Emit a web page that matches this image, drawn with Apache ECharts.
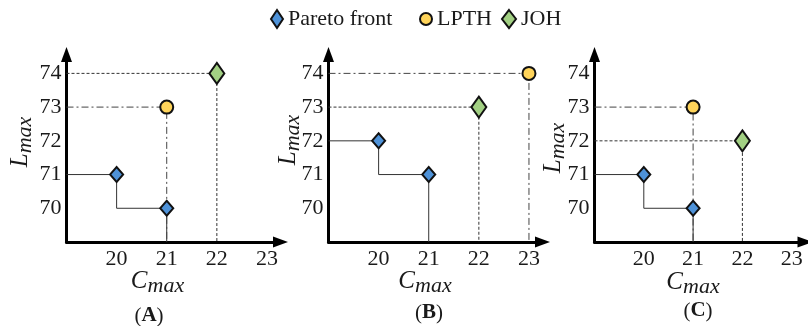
<!DOCTYPE html>
<html><head><meta charset="utf-8">
<script src="https://cdn.jsdelivr.net/npm/echarts@6/dist/echarts.min.js"></script>
<style>html,body{margin:0;padding:0;background:#fff}#c{width:808px;height:326px}</style>
</head><body><div id="c"></div>
<script>
// ---- data ----
const panelLabels = ['A', 'B', 'C'];
const xTickLabels = ['20', '21', '22', '23'];
const yTickLabels = ['70', '71', '72', '73', '74'];
const xAxisMain = 'C', xAxisSub = 'max';
const yAxisMain = 'L', yAxisSub = 'max';
const seriesNames = ['Pareto front', 'LPTH', 'JOH'];
const paretoA = [[20, 71], [21, 70]];
const lpthA = [21, 73];
const johA = [22, 74];
const paretoB = [[20, 72], [21, 71]];
const lpthB = [23, 74];
const johB = [22, 73];
const paretoC = [[20, 71], [21, 70]];
const lpthC = [21, 73];
const johC = [22, 72];

// ---- layout / style ----
const FONT = 'Liberation Serif';
const TXT = '#1a1a1a';
const xMin = 19, xMax = 23.27, yMin = 69, yMax = 74.56;
const panels = [
  { pareto: paretoA, lpth: lpthA, joh: johA },
  { pareto: paretoB, lpth: lpthB, joh: johB },
  { pareto: paretoC, lpth: lpthC, joh: johC }
];
const gridLeft = [66.5, 328.5, 594.5];
const xNamePos = [[157.5, 283], [425, 283], [693, 284]];
const yNamePos = [[22, 142], [290, 140], [555, 148]];
const panelLabelPos = [[149, 316], [429, 313], [698, 311]];

const grid = gridLeft.map(l => ({ left: l, top: 54.5, width: 214, height: 187.5 }));
const axisLine = { show: true, onZero: false, lineStyle: { color: '#000', width: 3 }, symbol: ['none', 'triangle'], symbolSize: [11, 15] };
const xAxis = grid.map((g, i) => ({
  type: 'value', gridIndex: i, min: xMin, max: xMax, interval: 1,
  axisLine, axisTick: { show: false }, splitLine: { show: false },
  axisLabel: { fontFamily: FONT, fontSize: 22, color: TXT, margin: 6,
    formatter: v => xTickLabels.includes(String(v)) ? String(v) : '' }
}));
const yAxis = grid.map((g, i) => ({
  type: 'value', gridIndex: i, min: yMin, max: yMax, interval: 1,
  axisLine, axisTick: { show: false }, splitLine: { show: false },
  axisLabel: { fontFamily: FONT, fontSize: 22, color: TXT, margin: 5,
    formatter: v => yTickLabels.includes(String(v)) ? String(v) : '' }
}));

const series = [];
const markerStyle = {
  'Pareto front': { symbol: 'diamond', symbolSize: [13, 15], color: '#4E92D8' },
  'LPTH': { symbol: 'circle', symbolSize: 13, color: '#FFD45A' },
  'JOH': { symbol: 'diamond', symbolSize: [15, 21], color: '#A2D083' }
};
panels.forEach((p, i) => {
  const guide = (data, lineStyle) => series.push({
    type: 'line', xAxisIndex: i, yAxisIndex: i, data, symbol: 'none', silent: true,
    z: 1, lineStyle, animation: false
  });
  const [p1, p2] = p.pareto;
  guide([[xMin, p1[1]], p1, [p1[0], p2[1]], p2, [p2[0], yMin]], { color: '#333', width: 1, type: 'solid' });
  guide([[xMin, p.lpth[1]], p.lpth, [p.lpth[0], yMin]], { color: '#444', width: 1, type: [7, 3, 2, 3] });
  guide([[xMin, p.joh[1]], p.joh, [p.joh[0], yMin]], { color: '#333', width: 1, type: [3, 2] });
  const pts = { 'Pareto front': p.pareto, 'LPTH': [p.lpth], 'JOH': [p.joh] };
  seriesNames.forEach(n => {
    const m = markerStyle[n];
    series.push({
      name: n, type: 'scatter', xAxisIndex: i, yAxisIndex: i, data: pts[n],
      symbol: m.symbol, symbolSize: m.symbolSize, z: 3, animation: false,
      itemStyle: { color: m.color, borderColor: '#111', borderWidth: 2, opacity: 1 }
    });
  });
});

const legendCommon = {
  top: 8, padding: 0, symbolKeepAspect: false, selectedMode: false,
  textStyle: { fontFamily: FONT, fontSize: 22, color: TXT },
  itemStyle: { borderColor: '#111', borderWidth: 2 }
};
const legend = [
  Object.assign({ data: [seriesNames[0]], left: 270, itemWidth: 12, itemHeight: 18 }, legendCommon),
  Object.assign({ data: [seriesNames[1]], left: 419, itemWidth: 12, itemHeight: 12 }, legendCommon),
  Object.assign({ data: [seriesNames[2]], left: 501, itemWidth: 14, itemHeight: 18 }, legendCommon)
];

const richName = {
  m: { fontFamily: FONT, fontStyle: 'italic', fontSize: 25, fill: TXT, verticalAlign: 'bottom', padding: [0, 0, 3, 0] },
  s: { fontFamily: FONT, fontStyle: 'italic', fontSize: 22, fill: TXT, verticalAlign: 'bottom' }
};
const graphic = [];
panelLabels.forEach((lab, i) => {
  graphic.push({ type: 'text', x: xNamePos[i][0], y: xNamePos[i][1],
    style: { text: '{m|' + xAxisMain + '}{s|' + xAxisSub + '}', rich: richName, align: 'center', verticalAlign: 'middle' } });
  graphic.push({ type: 'text', x: yNamePos[i][0], y: yNamePos[i][1], rotation: Math.PI / 2,
    style: { text: '{m|' + yAxisMain + '}{s|' + yAxisSub + '}', rich: richName, align: 'center', verticalAlign: 'middle' } });
  graphic.push({ type: 'text', x: panelLabelPos[i][0], y: panelLabelPos[i][1],
    style: { text: '{n|(}{b|' + lab + '}{n|)}', align: 'center', verticalAlign: 'middle',
      rich: { n: { fontFamily: FONT, fontSize: 21, fill: TXT }, b: { fontFamily: FONT, fontSize: 21, fontWeight: 'bold', fill: TXT } } } });
});

const chart = echarts.init(document.getElementById('c'));
chart.setOption({ animation: false, backgroundColor: '#fff', grid, xAxis, yAxis, series, legend, graphic });
</script></body></html>
